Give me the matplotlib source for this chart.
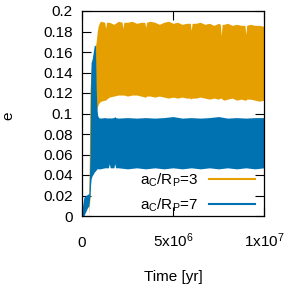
import numpy as np
import matplotlib.pyplot as plt
from matplotlib.lines import Line2D

plt.rcParams['font.family'] = ['Liberation Sans', 'DejaVu Sans']
plt.rcParams['mathtext.fontset'] = 'custom'
plt.rcParams['mathtext.rm'] = 'Liberation Sans'
plt.rcParams['mathtext.it'] = 'Liberation Sans:italic'
plt.rcParams['font.size'] = 11

# envelope of e(t) (time in units of 1e6 yr)
t_orange = [0.38, 0.44, 0.49, 0.55, 0.62, 0.70, 0.78, 0.84, 0.90, 0.97, 1.05, 1.25, 1.3, 1.35,
            1.5, 1.75, 2.0, 2.2, 2.25, 2.3, 2.5, 2.75, 3.0, 3.25, 3.45, 3.5, 3.55, 3.75, 4.0,
            4.25, 4.5, 4.75, 5.0, 5.25, 5.5, 5.75, 5.95, 6.0, 6.05, 6.25, 6.5, 6.75, 7.0, 7.25,
            7.5, 7.6, 7.65, 7.7, 7.8, 8.0, 8.25, 8.5, 8.75, 8.95, 9.0, 9.05, 9.25, 9.5, 9.75,
            10.0]
e3_max = [0.020, 0.123, 0.140, 0.152, 0.157, 0.162, 0.170, 0.180, 0.186, 0.189, 0.190, 0.189,
          0.183, 0.189, 0.189, 0.187, 0.190, 0.189, 0.183, 0.189, 0.189, 0.190, 0.188, 0.189,
          0.189, 0.184, 0.189, 0.190, 0.189, 0.187, 0.189, 0.190, 0.188, 0.189, 0.187, 0.188,
          0.188, 0.181, 0.188, 0.188, 0.189, 0.187, 0.188, 0.186, 0.188, 0.187, 0.176, 0.187,
          0.187, 0.188, 0.186, 0.187, 0.186, 0.186, 0.177, 0.186, 0.187, 0.186, 0.186, 0.185]
e3_min = [0.000, 0.020, 0.100, 0.100, 0.100, 0.100, 0.100, 0.106, 0.109, 0.111, 0.112, 0.113,
          0.113, 0.114, 0.116, 0.117, 0.118, 0.118, 0.118, 0.118, 0.117, 0.118, 0.118, 0.117,
          0.116, 0.116, 0.117, 0.117, 0.116, 0.117, 0.116, 0.115, 0.116, 0.115, 0.116, 0.115,
          0.115, 0.114, 0.115, 0.115, 0.116, 0.115, 0.114, 0.115, 0.114, 0.115, 0.115, 0.114,
          0.113, 0.114, 0.115, 0.113, 0.114, 0.113, 0.113, 0.114, 0.114, 0.113, 0.112, 0.113]

t_blue = [0.0, 0.1, 0.2, 0.3, 0.38, 0.44, 0.47, 0.50, 0.55, 0.62, 0.68, 0.74, 0.78, 0.82, 0.86,
          0.92, 1.0, 1.25, 1.45, 1.5, 1.55, 1.75, 1.8, 1.85, 2.0, 2.5, 3.0, 3.5, 4.0, 4.5, 5.0,
          5.5, 6.0, 6.5, 7.0, 7.5, 8.0, 8.5, 9.0, 9.5, 10.0]
e7_max = [0.006, 0.018, 0.020, 0.021, 0.022, 0.060, 0.125, 0.150, 0.152, 0.160, 0.167, 0.166,
          0.125, 0.105, 0.098, 0.096, 0.0955, 0.096, 0.0955, 0.096, 0.0955, 0.096, 0.097,
          0.096, 0.0955, 0.096, 0.0955, 0.096, 0.0955, 0.096, 0.097, 0.0955, 0.096, 0.0955,
          0.096, 0.097, 0.0955, 0.096, 0.0955, 0.096, 0.096]
e7_min = [0.000, 0.000, 0.004, 0.008, 0.010, 0.020, 0.030, 0.036, 0.039, 0.041, 0.043, 0.044,
          0.045, 0.046, 0.046, 0.046, 0.046, 0.047, 0.047, 0.051, 0.047, 0.047, 0.051, 0.047,
          0.047, 0.046, 0.047, 0.046, 0.047, 0.046, 0.047, 0.046, 0.047, 0.046, 0.047, 0.046,
          0.047, 0.046, 0.047, 0.046, 0.047]

labels = [r'a$_\mathrm{C}$/R$_\mathrm{P}$=3', r'a$_\mathrm{C}$/R$_\mathrm{P}$=7']
colors = ['#E69F00', '#0072B2']

fig = plt.figure(figsize=(2.91, 2.91), dpi=100)
ax = fig.add_axes([82/291, 75/291, 182/291, 205/291])

ax.fill_between(np.array(t_orange)*1e6, e3_min, e3_max, color=colors[0], lw=0)
ax.fill_between(np.array(t_blue)*1e6, e7_min, e7_max, color=colors[1], lw=0)

ax.set_xlim(0, 1e7)
ax.set_ylim(0, 0.2)
ax.set_xticks([0, 5e6, 1e7])
ax.set_xticklabels(['0', r'5x10$^{6}$', r'1x10$^{7}$'])
ax.set_yticks(np.arange(0, 0.201, 0.02))
ax.set_yticklabels(['0', '0.02', '0.04', '0.06', '0.08', '0.1', '0.12', '0.14', '0.16', '0.18', '0.2'])
ax.tick_params(direction='in', length=6.5, width=0.8, top=True, right=True)
ax.tick_params(axis='y', pad=6.5)
ax.tick_params(axis='x', pad=22)
for lab in ax.get_xticklabels():
    lab.set_va('baseline')
ax.set_axisbelow(True)
for s in ax.spines.values():
    s.set_linewidth(0.9)

ax.set_ylabel('e')
ax.yaxis.set_label_coords(-0.368, 0.49)
ax.set_xlabel('Time [yr]')
ax.xaxis.set_label_coords(0.5, -0.265)

handles = [Line2D([], [], color=c, lw=1.5) for c in colors]
ax.legend(handles, labels, loc='lower right', bbox_to_anchor=(0.951, 0.012),
          frameon=False, markerfirst=False, handlelength=3.0, handletextpad=0.7,
          labelspacing=0.5, borderpad=0, borderaxespad=0, fontsize=11)

fig.savefig('out.png', dpi=100)
